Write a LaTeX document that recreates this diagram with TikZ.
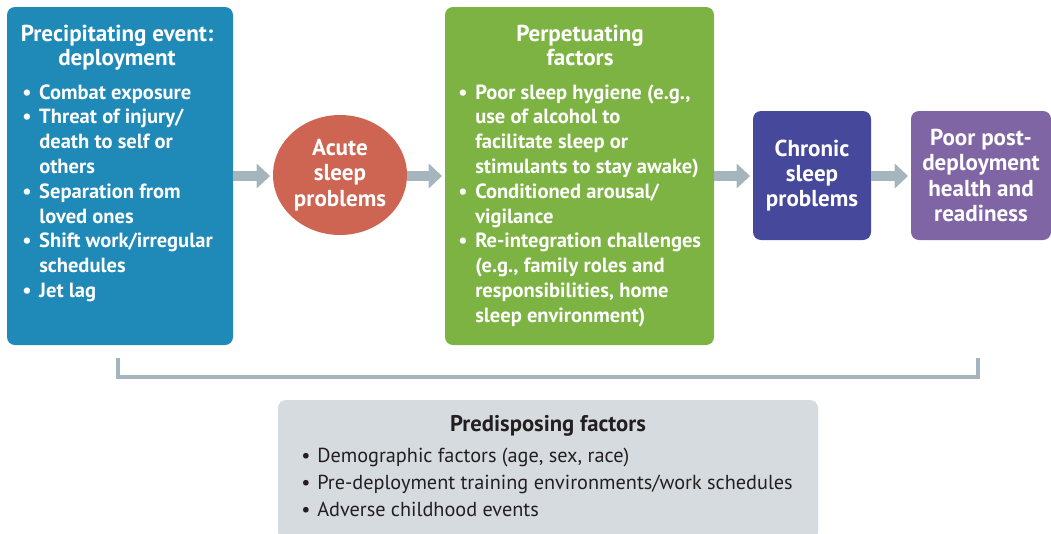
\documentclass[tikz,border=0pt]{standalone}
\usepackage{fontspec}
\setmainfont{PT Sans}
\usetikzlibrary{shapes.geometric,arrows.meta}
\definecolor{cblue}{RGB}{31,137,184}
\definecolor{cred}{RGB}{205,101,82}
\definecolor{cgreen}{RGB}{125,179,66}
\definecolor{cdark}{RGB}{70,72,156}
\definecolor{cpurple}{RGB}{128,101,164}
\definecolor{carrow}{RGB}{164,181,189}
\definecolor{cgraybox}{RGB}{214,219,223}
\definecolor{ctext}{RGB}{35,31,32}
\newcommand\blst[2]{\begin{tabular}[t]{@{}p{#1}@{}l@{}}#2\end{tabular}}
\newcommand\ctab[1]{\begin{tabular}[t]{@{}c@{}}#1\end{tabular}}
\begin{document}
\begin{tikzpicture}[x=0.75pt,y=-0.75pt,
  box/.style={rounded corners=6pt, inner sep=0pt, text=white, align=center,
    font=\bfseries\fontsize{17.3}{19}\selectfont},
  boxtext/.style={inner sep=0pt, text=white, font=\bfseries\fontsize{15.4}{18.6}\selectfont},
  titletext/.style={inner sep=0pt, text=white, font=\bfseries\fontsize{17.3}{18}\selectfont},
  graytext/.style={inner sep=0pt, text=ctext, font=\fontsize{15.2}{20.25}\selectfont},
  arr/.style={draw=carrow, line width=7.5pt, shorten >=2pt, -{Triangle[length=10pt,width=18pt]}},
  bracket/.style={draw=carrow, line width=3pt, line join=miter}]
\useasboundingbox (0,0) rectangle (1051,533);
\clip (0,0) rectangle (1051,533);
% boxes
\node[box, fill=cblue, minimum width=226*0.75pt, minimum height=338*0.75pt] (precip) at (120,176) {};
\node[box, ellipse, fill=cred, minimum width=134*0.75pt, minimum height=120*0.75pt] (acute) at (340,175) {Acute\\sleep\\problems};
\node[box, fill=cgreen, minimum width=269*0.75pt, minimum height=338*0.75pt] (perp) at (579.5,176) {};
\node[box, fill=cdark, minimum width=118*0.75pt, minimum height=129*0.75pt] (chronic) at (812,175.5) {Chronic\\sleep\\problems};
\node[box, fill=cpurple, minimum width=140*0.75pt, minimum height=129*0.75pt] (poor) at (981,175.5) {Poor post-\\deployment\\health and\\readiness};
\node[box, fill=cgraybox, minimum width=540*0.75pt, minimum height=140*0.75pt] (predis) at (548,470) {};
% texts of the large boxes
\node[titletext, anchor=base] (precipT) at (117,41) {\ctab{Precipitating event:\\deployment}};
\node[boxtext, anchor=base west] (precipL) at (22,99) {\blst{12.75pt}{%
• & Combat exposure\\
• & Threat of injury/\\
  & death to self or\\
  & others\\
• & Separation from\\
  & loved ones\\
• & Shift work/irregular\\
  & schedules\\
• & Jet lag}};
\node[titletext, anchor=base] (perpT) at (580,41) {\ctab{Perpetuating\\factors}};
\node[boxtext, anchor=base west] (perpL) at (458,99) {\blst{12.75pt}{%
• & Poor sleep hygiene (e.g.,\\
  & use of alcohol to\\
  & facilitate sleep or\\
  & stimulants to stay awake)\\
• & Conditioned arousal/\\
  & vigilance\\
• & Re-integration challenges\\
  & (e.g., family roles and\\
  & responsibilities, home\\
  & sleep environment)}};
\node[graytext, anchor=base, font=\bfseries\fontsize{17}{20.25}\selectfont] (predisT) at (548,431) {Predisposing factors};
\node[graytext, anchor=base west] (predisL) at (301,462) {\blst{12pt}{%
• & Demographic factors (age, sex, race)\\
• & Pre-deployment training environments/work schedules\\
• & Adverse childhood events}};
% arrows
\draw[arr] (precip.east |- 0,176) -- (acute.west |- 0,176);
\draw[arr] (acute.east |- 0,176) -- (perp.west |- 0,176);
\draw[arr] (perp.east |- 0,176) -- (chronic.west |- 0,176);
\draw[arr] (chronic.east |- 0,176) -- (poor.west |- 0,176);
% bracket
\coordinate (b1) at (118,358);
\coordinate (b2) at (118,377);
\coordinate (b3) at (978,377);
\coordinate (b4) at (978,358);
\draw[bracket] (b1) -- (b2) -- (b3) -- (b4);
\end{tikzpicture}
\end{document}
